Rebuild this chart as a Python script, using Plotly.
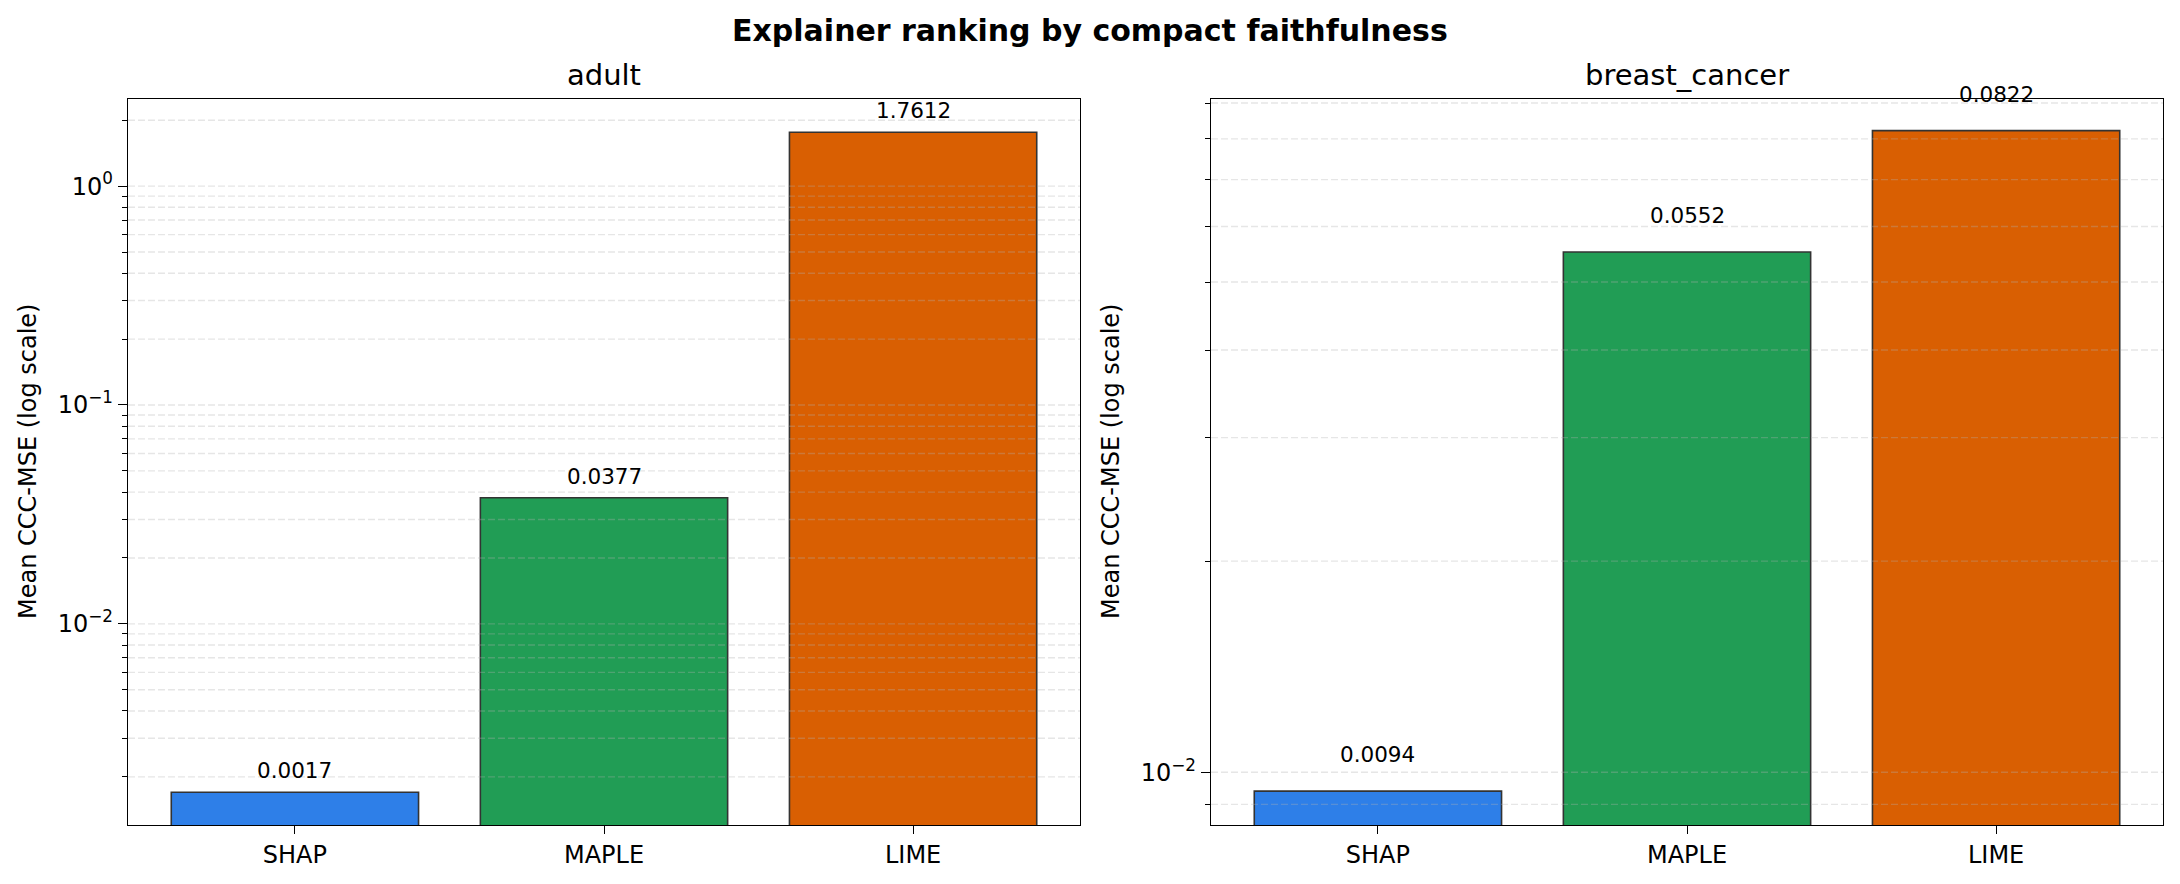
import numpy as np
import plotly.graph_objects as go

# values
explainers = ["SHAP", "MAPLE", "LIME"]
bar_colors = ["#2e7fe8", "#219d55", "#d95f02"]
datasets = ["adult", "breast_cancer"]
adult_mse = [0.0017, 0.0377, 1.7612]
breast_cancer_mse = [0.0094, 0.0552, 0.0822]

major_ticks = [0.01, 0.1, 1]
major_text = ["10<sup>0</sup>" if t == 1 else f"10<sup>\u2212{int(round(-np.log10(t)))}</sup>"
              for t in major_ticks]
minor_ticks = [m * 10.0 ** e for e in range(-4, 1) for m in range(2, 10)]

W, H = 2180, 884
FONT = "DejaVu Sans"

# panel geometry in pixels (left, right) and log ranges
panels = [
    dict(name=datasets[0], vals=adult_mse, px=(128, 1080), yr=[-2.919, 0.398]),
    dict(name=datasets[1], vals=breast_cancer_mse, px=(1211, 2163), yr=[-2.0752, -1.040]),
]
TOP, BOTTOM = 99, 825

fig = go.Figure()
shapes = []
annotations = []

for i, p in enumerate(panels, start=1):
    xa = "x" if i == 1 else f"x{i}"
    ya = "y" if i == 1 else f"y{i}"
    fig.add_trace(
        go.Bar(
            x=explainers,
            y=p["vals"],
            width=0.8,
            marker=dict(color=bar_colors, line=dict(color="#333333", width=1.6)),
            xaxis=xa,
            yaxis=ya,
            showlegend=False,
            hoverinfo="x+y",
        )
    )
    axis_style = dict(
        showline=True, linecolor="black", linewidth=1.4, mirror=True,
        ticks="outside", tickcolor="black", tickwidth=1.3,
        tickfont=dict(family=FONT, size=24, color="black"),
        showgrid=False, zeroline=False,
    )
    fig.update_layout(**{
        ("xaxis" if i == 1 else f"xaxis{i}"): dict(
            axis_style, domain=[p["px"][0] / W, p["px"][1] / W], anchor=ya,
            type="category", range=[-0.54, 2.54], ticklen=8,
        ),
        ("yaxis" if i == 1 else f"yaxis{i}"): dict(
            axis_style, domain=[(H - BOTTOM) / H, (H - TOP) / H], anchor=xa,
            type="log", range=p["yr"], ticklen=9,
            tickmode="array", tickvals=major_ticks, ticktext=major_text,
            minor=dict(tickmode="array", tickvals=minor_ticks, ticks="outside",
                       ticklen=5, tickcolor="black", tickwidth=1.1, showgrid=False),
        ),
    })

    # dashed grid drawn over the bars (major + minor)
    lo, hi = 10 ** p["yr"][0], 10 ** p["yr"][1]
    for g in major_ticks + minor_ticks:
        if lo < g < hi:
            shapes.append(dict(
                type="line", xref=f"{xa} domain", x0=0, x1=1, yref=ya, y0=g, y1=g,
                line=dict(color="rgba(176,176,176,0.32)", width=1.4, dash="7px,3px"),
                layer="above",
            ))

    # value labels
    for name, v in zip(explainers, p["vals"]):
        annotations.append(dict(
            x=name, y=np.log10(v * 1.075), xref=xa, yref=ya,
            text=f"{v:.4f}", showarrow=False, yanchor="bottom",
            font=dict(family=FONT, size=21.5, color="black"),
        ))

    # panel title
    cx = (p["px"][0] + p["px"][1]) / 2 / W
    annotations.append(dict(
        x=cx, y=(H - 94) / H, xref="paper", yref="paper", text=p["name"],
        showarrow=False, yanchor="bottom", xanchor="center",
        font=dict(family=FONT, size=29, color="black"),
    ))
    # y axis label
    annotations.append(dict(
        x=(p["px"][0] - 100) / W, y=(H - (TOP + BOTTOM) / 2) / H, xref="paper", yref="paper",
        text="Mean CCC-MSE (log scale)", textangle=-90, showarrow=False,
        xanchor="center", yanchor="middle",
        font=dict(family=FONT, size=24, color="black"),
    ))

annotations.append(dict(
    x=0.5, y=(H - 50) / H, xref="paper", yref="paper",
    text="<b>Explainer ranking by compact faithfulness</b>",
    showarrow=False, xanchor="center", yanchor="bottom",
    font=dict(family=FONT, size=30, color="black"),
))

fig.update_layout(
    width=W,
    height=H,
    margin=dict(l=0, r=0, t=0, b=0),
    paper_bgcolor="white",
    plot_bgcolor="white",
    shapes=shapes,
    annotations=annotations,
    bargap=0.2,
)

fig.write_html("out.html", config={"displayModeBar": False},
               post_script="document.body.style.margin='0';")
